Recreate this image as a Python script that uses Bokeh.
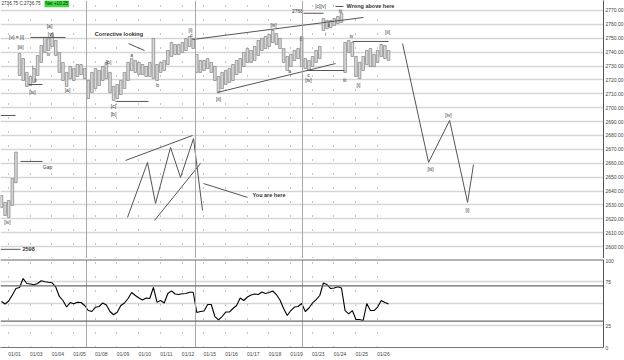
from bokeh.plotting import figure
from bokeh.layouts import column
from bokeh.models import Range1d, FixedTicker, NumeralTickFormatter, Span, Label, ColumnDataSource
from bokeh.core.properties import value
from bokeh.embed import file_html
from bokeh.resources import INLINE

FONT = "Liberation Sans"

# ---------------- data ----------------
day_labels = ["01/01", "01/03", "01/04", "01/05", "01/08", "01/09", "01/10", "01/11", "01/12",
              "01/15", "01/16", "01/17", "01/18", "01/19", "01/23", "01/24", "01/25", "01/26"]

bar_high = [2636.8, 2631.8, 2633.2, 2649.0, 2668.0, 2739.0, 2735.4, 2725.4, 2722.5, 2728.2,
            2737.6, 2744.8, 2750.6, 2749.8, 2753.4, 2748.4, 2739.8, 2732.6, 2725.4, 2729.7,
            2728.2, 2731.1, 2731.1, 2728.2, 2719.6, 2725.4, 2728.2, 2726.8, 2729.7, 2732.6,
            2725.4, 2715.3, 2716.7, 2719.6, 2725.4, 2732.6, 2735.4, 2734.0, 2732.6, 2731.1,
            2729.7, 2732.6, 2749.8, 2731.1, 2732.6, 2734.0, 2741.2, 2747.0, 2745.5, 2745.5,
            2747.0, 2749.8, 2751.3, 2749.8, 2738.3, 2734.0, 2734.0, 2735.4, 2732.6, 2729.7,
            2722.5, 2725.4, 2726.8, 2728.2, 2731.1, 2734.0, 2735.4, 2739.8, 2742.6, 2741.2,
            2744.1, 2748.4, 2749.8, 2751.3, 2752.7, 2755.6, 2753.4, 2749.8, 2742.6, 2736.9,
            2738.3, 2741.2, 2742.6, 2751.3, 2735.4, 2734.0, 2736.9, 2741.2, 2744.1, 2764.2,
            2762.8, 2762.8, 2764.2, 2765.7, 2768.0, 2747.0, 2748.4, 2747.0, 2736.9, 2732.6,
            2736.9, 2741.2, 2742.6, 2738.3, 2741.2, 2745.5, 2744.8, 2741.2]
bar_low = [2628.2, 2622.4, 2621.0, 2629.6, 2646.0, 2723.2, 2719.6, 2715.3, 2716.0, 2718.2,
           2723.2, 2732.6, 2739.8, 2741.2, 2744.1, 2737.6, 2725.4, 2719.6, 2715.3, 2721.0,
           2719.6, 2722.5, 2723.9, 2721.0, 2706.6, 2711.0, 2713.8, 2716.0, 2719.6, 2721.0,
           2711.0, 2705.2, 2706.6, 2709.5, 2713.8, 2719.6, 2726.8, 2725.4, 2723.9, 2723.9,
           2722.5, 2722.5, 2721.0, 2719.6, 2725.4, 2726.8, 2731.1, 2736.9, 2738.3, 2738.3,
           2739.8, 2741.2, 2744.1, 2742.6, 2725.4, 2725.4, 2726.8, 2728.2, 2725.4, 2719.6,
           2711.0, 2713.8, 2716.7, 2718.2, 2719.6, 2723.9, 2725.4, 2729.7, 2732.6, 2732.6,
           2734.0, 2737.6, 2741.2, 2742.6, 2744.1, 2747.0, 2745.5, 2742.6, 2732.6, 2726.8,
           2729.7, 2734.0, 2735.4, 2729.7, 2728.2, 2726.8, 2729.7, 2732.6, 2735.4, 2755.6,
           2757.0, 2757.8, 2759.2, 2760.6, 2761.4, 2725.4, 2739.8, 2736.9, 2722.5, 2721.0,
           2726.8, 2731.1, 2729.7, 2729.7, 2732.6, 2736.9, 2735.4, 2734.0]
last_close = 2736.75
net_change = "+10.25"

rsi = [52.3, 49.4, 52.8, 59.7, 67.0, 68.2, 78.4, 72.7, 72.2, 71.3,
       72.7, 75.8, 74.8, 74.1, 73.5, 68.8, 58.0, 53.4, 46.0, 51.1,
       49.7, 51.4, 51.1, 47.7, 42.0, 40.9, 45.8, 46.6, 50.6, 48.3,
       40.9, 37.2, 40.1, 47.7, 50.6, 55.7, 62.5, 59.1, 56.3, 54.0,
       56.3, 55.7, 68.2, 51.5, 53.4, 50.6, 61.4, 64.4, 60.8, 60.2,
       61.0, 61.4, 62.8, 62.8, 39.8, 40.9, 41.5, 48.9, 48.9, 35.2,
       31.3, 35.2, 40.3, 40.3, 44.3, 47.7, 56.3, 53.4, 57.4, 59.7,
       60.8, 60.2, 63.1, 61.4, 62.5, 64.2, 60.2, 54.0, 44.3, 36.4,
       42.0, 46.0, 46.6, 50.0, 40.9, 44.9, 50.6, 54.5, 59.1, 73.3,
       71.6, 67.0, 67.6, 69.1, 67.6, 42.0, 38.3, 42.0, 31.8, 31.8,
       30.7, 50.0, 42.0, 42.0, 46.0, 53.4, 51.1, 49.47]

# annotation lines (x in trading days, y in price)
seg_x0 = [0.276, -0.645, -0.645, 0.645, 0.737, 4.654, 5.253, 8.203, 9.355, 13.456, 13.318, 14.793, 15.576, 8.71, 5.115, 6.452]
seg_y0 = [2661.3, 2598.0, 2694.4, 2716.7, 2750.6, 2704.5, 2746.2, 2749.1, 2711.0, 2726.8, 2768.0, 2772.9, 2747.7, 2645.4, 2662.0, 2618.8]
seg_x1 = [1.290, 0.276, 0.046, 1.290, 2.350, 6.175, 5.990, 16.083, 14.793, 15.207, 14.240, 15.161, 17.235, 10.737, 8.203, 8.571]
seg_y1 = [2661.3, 2598.0, 2694.4, 2716.7, 2750.6, 2704.5, 2741.2, 2765.0, 2731.8, 2726.8, 2768.0, 2772.9, 2747.7, 2635.4, 2680.0, 2659.8]

# projected path and ending-diagonal sketch
proj_x = [17.88, 19.08, 20.05, 20.876, 21.15]
proj_y = [2746.2, 2660.6, 2690.8, 2631.8, 2659.0]
diag_x = [5.207, 6.129, 6.498, 7.189, 7.650, 8.249, 8.664]
diag_y = [2620.96, 2660.56, 2631.04, 2671.36, 2649.76, 2677.84, 2626.0]

# wave labels
lab_text = ["[iv]", "Gap", "[iii]", "[v] = [i]", "[a]", "[v]", "iv", "i", "ii", "[iv]", "[a]",
            "[b]", "[c]", "[b]", "a", "b", "[i]", "c", "[ii]", "[iii]", "a", "b", "c", "[iv]",
            "2768", "[c][v]", "i", "ii", "iii", "iii", "iv", "[i]", "[ii]", "[iii]", "[iv]", "[i]"]
lab_x = [-0.323, 1.521, 0.276, 0.092, 1.613, 1.659, 1.567, 0.829, 0.968, 0.829, 2.442,
         4.332, 4.562, 4.562, 5.392, 6.590, 8.111, 8.157, 9.401, 11.935, 12.673, 13.226, 13.548, 13.548,
         13.04, 14.10, 14.33, 14.47, 15.02, 15.21, 15.53, 15.85, 17.19, 19.17, 20.0, 20.876]
lab_y = [2617.4, 2657.0, 2743.4, 2750.6, 2758.5, 2753.4, 2739.0, 2729.0, 2720.3, 2711.0, 2712.4,
         2732.6, 2700.9, 2695.8, 2737.6, 2716.0, 2756.3, 2752.7, 2706.6, 2759.9, 2726.1, 2749.8, 2723.2, 2719.6,
         2769.3, 2772.9, 2753.4, 2759.9, 2769.3, 2719.6, 2751.3, 2716.0, 2754.2, 2655.5, 2695.1, 2626.0]

note_text = ["Corrective looking", "You are here", "Wrong above here", "2598"]
note_x = [3.70, 10.968, 15.30, 0.369]
note_y = [2753.4, 2636.8, 2772.9, 2598.0]

# ---------------- figures ----------------
t = [-0.6 + i / 6 for i in range(len(bar_high))]
t_rsi = [-0.6 + i / 6 for i in range(len(rsi))]

x_rng = Range1d(-0.645, 27.14)
p1 = figure(frame_width=603, frame_height=258, x_range=x_rng, y_range=Range1d(2591.4, 2777.2),
            y_axis_location="right", x_axis_location=None, output_backend="svg", toolbar_location=None,
            min_border_left=0, min_border_right=0, min_border_top=0, min_border_bottom=0)
p2 = figure(frame_width=603, frame_height=88, x_range=x_rng, y_range=Range1d(0, 100),
            y_axis_location="right", output_backend="svg", toolbar_location=None,
            min_border_left=0, min_border_right=20, min_border_top=1, min_border_bottom=0)

for p in (p1, p2):
    p.outline_line_color = None
    p.background_fill_color = "white"
    p.border_fill_color = "white"
    yax = p.yaxis[0]
    yax.major_label_text_font_size = "5px"
    yax.major_label_text_font = FONT
    yax.major_label_text_color = "#444444"
    yax.major_tick_out = 0
    yax.major_tick_in = 0
    yax.minor_tick_out = 0
    yax.minor_tick_in = 0
    yax.major_label_standoff = 2
    yax.axis_line_color = "#555555"
    p.xgrid.ticker = FixedTicker(ticks=[k - 0.28 for k in range(len(day_labels))])
    p.xgrid.grid_line_color = "#888888"
    p.xgrid.grid_line_dash = "1 13"
    p.xgrid.grid_line_width = 1
    p.ygrid.grid_line_color = "#d6d6d6"
    p.ygrid.grid_line_width = 1.5
    for loc in (3.318, 8.341, 13.27):
        p.add_layout(Span(location=loc, dimension="height", line_color="#a8a8a8", line_width=1))

p1.yaxis.ticker = FixedTicker(ticks=list(range(2600, 2771, 10)))
p1.yaxis.formatter = NumeralTickFormatter(format="0.00")
p1.ygrid.ticker = FixedTicker(ticks=list(range(2600, 2771, 10)))

# price bars
src = ColumnDataSource(dict(t=t, hi=bar_high, lo=bar_low))
p1.vbar(x="t", top="hi", bottom="lo", width=0.12, source=src,
        fill_color="#d8d8d8", line_color="#808080", line_width=0.7)

# annotation lines
p1.segment(x0=seg_x0, y0=seg_y0, x1=seg_x1, y1=seg_y1, line_color="#555555", line_width=1)
p1.line(proj_x, proj_y, line_color="#555555", line_width=1)
p1.line(diag_x, diag_y, line_color="#555555", line_width=1)

p1.text(x=lab_x, y=lab_y, text=lab_text, text_font=value(FONT), text_font_size="5px",
        text_color="#333333", text_align="center", text_baseline="middle")
p1.text(x=note_x, y=note_y, text=note_text, text_font=value(FONT), text_font_size="5.5px",
        text_font_style="bold", text_color="#333333", text_align="left", text_baseline="middle")

# header + last price box
p1.add_layout(Label(x=1, x_units="screen", y=2774.8, y_units="data",
                    text="2736.75 C:%.2f" % last_close, text_font=FONT, text_font_size="4.6px",
                    text_color="#333333", text_baseline="middle"))
p1.add_layout(Label(x=44, x_units="screen", y=2774.8, y_units="data", text="Net " + net_change,
                    text_font=FONT, text_font_size="4.6px", text_color="#111111", text_baseline="middle",
                    background_fill_color="#3fdc3f", padding=1))
p1.add_layout(Label(x=604, x_units="screen", y=last_close, y_units="data", text="%.2f" % last_close,
                    text_font=FONT, text_font_size="5px", text_color="white", text_baseline="middle",
                    background_fill_color="black", padding=1))

# indicator panel
p2.yaxis.ticker = FixedTicker(ticks=[0, 25, 75, 100])
p2.ygrid.ticker = FixedTicker(ticks=[25, 50, 75])
for lvl, w in ((100, 2), (70, 1.2), (30, 1.2)):
    p2.add_layout(Span(location=lvl, dimension="width", line_color="#6a6a6a", line_width=w))
p2.line(t_rsi, rsi, line_color="black", line_width=1.1)
p2.add_layout(Label(x=604, x_units="screen", y=rsi[-1], y_units="data", text="%.2f" % rsi[-1],
                    text_font=FONT, text_font_size="5px", text_color="white", text_baseline="middle",
                    background_fill_color="black", padding=1))

xax = p2.xaxis[0]
xax.ticker = FixedTicker(ticks=list(range(len(day_labels))))
xax.major_label_overrides = {i: lab for i, lab in enumerate(day_labels)}
xax.major_label_text_font_size = "5px"
xax.major_label_text_font = FONT
xax.major_label_text_color = "#444444"
xax.major_tick_out = 0
xax.major_tick_in = 0
xax.minor_tick_out = 0
xax.minor_tick_in = 0
xax.major_label_standoff = 3
xax.axis_line_color = "#777777"

layout = column(p1, p2, spacing=0)
open("out.html", "w").write(file_html(layout, INLINE))
